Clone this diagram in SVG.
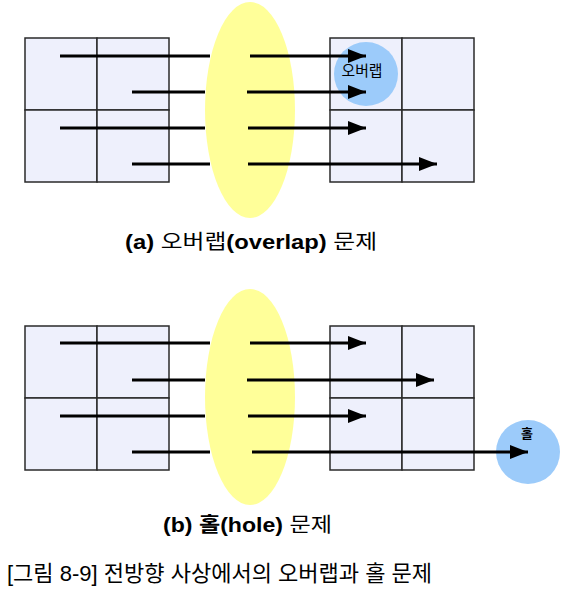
<svg xmlns="http://www.w3.org/2000/svg" width="567" height="605" viewBox="0 0 567 605">
<style>
.cell{fill:#eef0fc;stroke:#2a2a2a;stroke-width:1.5}
.lens{fill:#ffff99}
.spot{fill:#9ccbfa}
.ray{stroke:#000;stroke-width:3;fill:none}
.arr{stroke:#000;stroke-width:3;fill:none;marker-end:url(#ah)}
.t{font-family:"Liberation Sans","Noto Sans CJK KR",sans-serif;fill:#000}
.k{font-family:"Noto Sans CJK KR","Liberation Sans",sans-serif;fill:#000}
</style>
<defs>
<marker id="ah" markerUnits="userSpaceOnUse" markerWidth="20" markerHeight="14" refX="18" refY="7" orient="auto">
<path d="M0,0 L18,7 L0,14 Z" fill="#000"/>
</marker>
</defs>
<rect width="567" height="605" fill="#fff"/>

<g id="a-source">
<rect class="cell" x="25" y="38" width="72" height="72"/>
<rect class="cell" x="97" y="38" width="72" height="72"/>
<rect class="cell" x="25" y="110" width="72" height="72"/>
<rect class="cell" x="97" y="110" width="72" height="72"/>
</g>
<g id="a-lens"><ellipse class="lens" cx="250" cy="110" rx="45" ry="108"/></g>
<g id="a-target">
<rect class="cell" x="330" y="38" width="72" height="72"/>
<rect class="cell" x="402" y="38" width="72" height="72"/>
<rect class="cell" x="330" y="110" width="72" height="72"/>
<rect class="cell" x="402" y="110" width="72" height="72"/>
</g>
<g id="a-overlap">
<circle class="spot" cx="366" cy="74" r="32"/>
<text class="k" x="362" y="76" font-size="15" text-anchor="middle" textLength="41" lengthAdjust="spacingAndGlyphs">오버랩</text>
</g>

<g id="b-source">
<rect class="cell" x="25" y="326" width="72" height="72"/>
<rect class="cell" x="97" y="326" width="72" height="72"/>
<rect class="cell" x="25" y="398" width="72" height="72"/>
<rect class="cell" x="97" y="398" width="72" height="72"/>
</g>
<g id="b-lens"><ellipse class="lens" cx="250" cy="397" rx="45" ry="108"/></g>
<g id="b-target">
<rect class="cell" x="330" y="326" width="72" height="72"/>
<rect class="cell" x="402" y="326" width="72" height="72"/>
<rect class="cell" x="330" y="398" width="72" height="72"/>
<rect class="cell" x="402" y="398" width="72" height="72"/>
</g>
<g id="b-hole">
<circle class="spot" cx="528" cy="452" r="32"/>
<text class="k" x="527" y="438" font-size="13" font-weight="bold" text-anchor="middle">홀</text>
</g>

<g id="connectors">
<line class="ray" x1="60" y1="56" x2="210" y2="56"/>
<line class="arr" x1="250" y1="56" x2="366" y2="56"/>
<line class="ray" x1="132" y1="92" x2="205" y2="92"/>
<line class="arr" x1="247" y1="92" x2="366" y2="92"/>
<line class="ray" x1="60" y1="128" x2="205" y2="128"/>
<line class="arr" x1="248" y1="128" x2="366" y2="128"/>
<line class="ray" x1="132" y1="164" x2="210" y2="164"/>
<line class="arr" x1="248" y1="164" x2="437" y2="164"/>

<line class="ray" x1="60" y1="343" x2="210" y2="343"/>
<line class="arr" x1="250" y1="343" x2="366" y2="343"/>
<line class="ray" x1="132" y1="380" x2="205" y2="380"/>
<line class="arr" x1="247" y1="380" x2="434" y2="380"/>
<line class="ray" x1="60" y1="416" x2="205" y2="416"/>
<line class="arr" x1="248" y1="416" x2="366" y2="416"/>
<line class="ray" x1="132" y1="452" x2="210" y2="452"/>
<line class="arr" x1="252" y1="452" x2="528" y2="452"/>
</g>

<text class="t" x="125" y="249" font-size="20" textLength="252" lengthAdjust="spacingAndGlyphs"><tspan font-weight="bold">(a)</tspan> 오버랩<tspan font-weight="bold">(overlap)</tspan> 문제</text>
<text class="t" x="163" y="532" font-size="20" textLength="169" lengthAdjust="spacingAndGlyphs"><tspan font-weight="bold">(b) 홀(hole)</tspan> 문제</text>
<text class="t" x="7" y="581" font-size="22" textLength="425" lengthAdjust="spacingAndGlyphs">[그림 8-9] 전방향 사상에서의 오버랩과 홀 문제</text>
</svg>
